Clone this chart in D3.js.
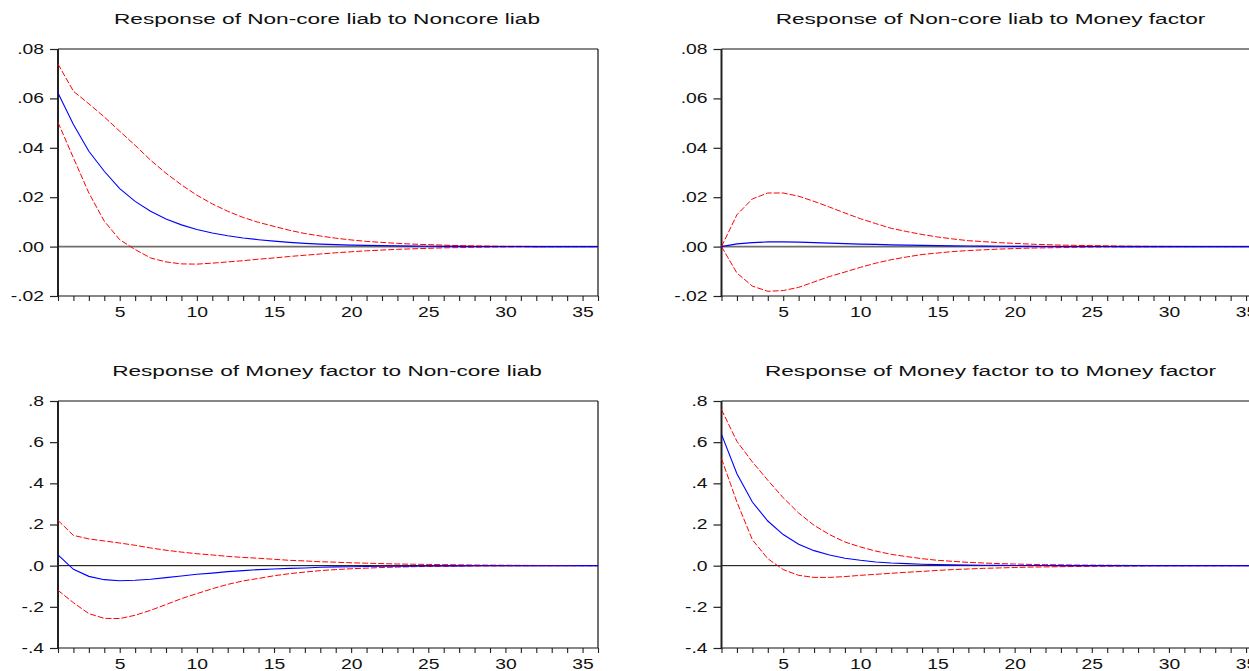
<!DOCTYPE html>
<html>
<head>
<meta charset="utf-8">
<script src="https://cdn.jsdelivr.net/npm/d3@7"></script>
<style>
  html, body { margin: 0; padding: 0; background: #fff; }
  svg { display: block; font-family: "Liberation Sans", Arial, sans-serif; }
</style>
</head>
<body>
<svg id="chart" width="1249" height="671"></svg>
<script>
// ---------- data ----------
const periods = [1,2,3,4,5,6,7,8,9,10,11,12,13,14,15,16,17,18,19,20,21,22,23,24,25,26,27,28,29,30,31,32,33,34,35,36];
const xTickLabels = [5,10,15,20,25,30,35];

const titles = [
  "Response of Non-core liab to Noncore liab",
  "Response of Non-core liab to Money factor",
  "Response of Money factor to Non-core liab",
  "Response of Money factor to to Money factor"
];

const topYTicks = [0.08, 0.06, 0.04, 0.02, 0.00, -0.02];
const topYLabels = [".08", ".06", ".04", ".02", ".00", "-.02"];
const botYTicks = [0.8, 0.6, 0.4, 0.2, 0.0, -0.2, -0.4];
const botYLabels = [".8", ".6", ".4", ".2", ".0", "-.2", "-.4"];

// Panel 1: Non-core liab -> Noncore liab
const p1Mid = [0.0622,0.0494,0.0386,0.0305,0.0235,0.0183,0.0143,0.0112,0.0088,0.0069,0.0055,0.0044,0.0035,0.0028,0.0022,0.0017,0.0013,0.0010,0.0008,0.0006,0.0005,0.0004,0.0003,0.0002,0.00015,0.0001,0.00008,0.00006,0.00004,0.00003,0.00002,0.00001,0.00001,0,0,0];
const p1Up  = [0.0739,0.0629,0.0578,0.0525,0.0467,0.0410,0.0350,0.0297,0.0250,0.0208,0.0173,0.0143,0.0118,0.0098,0.0082,0.0066,0.0053,0.0043,0.0034,0.0027,0.0021,0.0017,0.0013,0.0010,0.0008,0.0006,0.0004,0.0003,0.0002,0.0001,0.0001,0.00005,0.00003,0.00002,0.00001,0];
const p1Lo  = [0.0503,0.0359,0.0217,0.0103,0.0028,-0.0012,-0.0046,-0.0062,-0.0070,-0.0071,-0.0067,-0.0062,-0.0057,-0.0051,-0.0046,-0.0040,-0.0035,-0.0030,-0.0025,-0.0021,-0.0017,-0.0014,-0.0011,-0.0009,-0.0007,-0.0005,-0.0004,-0.0003,-0.0002,-0.00015,-0.0001,-0.00007,-0.00005,-0.00003,-0.00002,-0.00001];

// Panel 2: Non-core liab -> Money factor
const p2Mid = [0,0.0011,0.0016,0.0019,0.0019,0.0018,0.0016,0.0014,0.0012,0.0010,0.0009,0.0007,0.0006,0.0005,0.0004,0.0003,0.00025,0.0002,0.00015,0.0001,0.00008,0.00006,0.00005,0.00004,0.00003,0.00002,0.00001,0.00001,0,0,0,0,0,0,0,0];
const p2Up  = [0,0.0129,0.0193,0.0217,0.0217,0.0204,0.0183,0.0160,0.0136,0.0113,0.0093,0.0074,0.0061,0.0049,0.0039,0.0031,0.0024,0.0020,0.0016,0.0013,0.0010,0.0008,0.0006,0.0005,0.0004,0.0003,0.0002,0.00015,0.0001,0.00008,0.00006,0.00004,0.00003,0.00002,0.00001,0];
const p2Lo  = [0,-0.0107,-0.0160,-0.0181,-0.0178,-0.0165,-0.0143,-0.0121,-0.0103,-0.0084,-0.0067,-0.0053,-0.0042,-0.0032,-0.0026,-0.0020,-0.0016,-0.0013,-0.0010,-0.0008,-0.0006,-0.0005,-0.0004,-0.0003,-0.0002,-0.00015,-0.0001,-0.00008,-0.00006,-0.00004,-0.00003,-0.00002,-0.00001,0,0,0];

// Panel 3: Money factor -> Non-core liab
const p3Mid = [0.052,-0.018,-0.052,-0.068,-0.073,-0.071,-0.066,-0.058,-0.050,-0.042,-0.036,-0.029,-0.024,-0.019,-0.016,-0.013,-0.011,-0.008,-0.006,-0.005,-0.004,-0.003,-0.0025,-0.002,-0.0015,-0.001,-0.0008,-0.0006,-0.0004,-0.0003,-0.0002,-0.0002,-0.0001,-0.0001,0,0];
const p3Up  = [0.220,0.147,0.130,0.120,0.110,0.099,0.086,0.075,0.066,0.058,0.052,0.045,0.040,0.036,0.031,0.026,0.023,0.019,0.017,0.014,0.012,0.010,0.008,0.007,0.006,0.005,0.004,0.003,0.0025,0.002,0.0015,0.001,0.0008,0.0006,0.0004,0.0003];
const p3Lo  = [-0.120,-0.180,-0.233,-0.256,-0.257,-0.241,-0.217,-0.189,-0.160,-0.136,-0.112,-0.091,-0.074,-0.062,-0.049,-0.039,-0.031,-0.024,-0.019,-0.015,-0.012,-0.009,-0.007,-0.005,-0.004,-0.003,-0.002,-0.0015,-0.001,-0.0008,-0.0006,-0.0004,-0.0003,-0.0002,-0.0001,-0.0001];

// Panel 4: Money factor -> Money factor
const p4Mid = [0.638,0.447,0.309,0.217,0.151,0.104,0.073,0.052,0.036,0.026,0.018,0.013,0.010,0.007,0.005,0.004,0.003,0.002,0.0015,0.001,0.0008,0.0006,0.0004,0.0003,0.0002,0.0002,0.0001,0.0001,0,0,0,0,0,0,0,0];
const p4Up  = [0.758,0.604,0.504,0.415,0.330,0.256,0.196,0.151,0.115,0.091,0.071,0.055,0.044,0.034,0.026,0.021,0.016,0.013,0.010,0.008,0.006,0.005,0.004,0.003,0.0025,0.002,0.0015,0.001,0.0008,0.0006,0.0004,0.0003,0.0002,0.0002,0.0001,0.0001];
const p4Lo  = [0.520,0.309,0.126,0.034,-0.019,-0.047,-0.057,-0.057,-0.053,-0.047,-0.042,-0.037,-0.032,-0.028,-0.023,-0.019,-0.016,-0.013,-0.011,-0.009,-0.007,-0.006,-0.005,-0.004,-0.003,-0.0025,-0.002,-0.0015,-0.001,-0.0008,-0.0006,-0.0004,-0.0003,-0.0002,-0.0001,-0.0001];

// ---------- layout ----------
const svg = d3.select("#chart");
const TEXT_SX = 1.38;   // horizontal stretch of the reference's text
const TITLE_SX = 1.46;

const panels = [
  { title: titles[0], mid: p1Mid, up: p1Up, lo: p1Lo, x0: 58,    x1: 598,   y0: 49,  y1: 296, dom: [-0.02, 0.08], ticks: topYTicks, labels: topYLabels, zeroColor: "#6e6e6e", zeroW: 1.6 },
  { title: titles[1], mid: p2Mid, up: p2Up, lo: p2Lo, x0: 721.5, x1: 1261.5, y0: 49,  y1: 296, dom: [-0.02, 0.08], ticks: topYTicks, labels: topYLabels, zeroColor: "#6e6e6e", zeroW: 1.6 },
  { title: titles[2], mid: p3Mid, up: p3Up, lo: p3Lo, x0: 58,    x1: 598,   y0: 401, y1: 648, dom: [-0.4, 0.8],   ticks: botYTicks, labels: botYLabels, zeroColor: "#000", zeroW: 1 },
  { title: titles[3], mid: p4Mid, up: p4Up, lo: p4Lo, x0: 721.5, x1: 1261.5, y0: 401, y1: 648, dom: [-0.4, 0.8],   ticks: botYTicks, labels: botYLabels, zeroColor: "#000", zeroW: 1 }
];

panels.forEach(p => {
  const x = d3.scaleLinear().domain([1, 36]).range([p.x0, p.x1]);
  const y = d3.scaleLinear().domain(p.dom).range([p.y1, p.y0]);
  const g = svg.append("g");

  // title
  const cx = (p.x0 + p.x1) / 2;
  g.append("g")
    .attr("transform", `translate(${cx - 1},${p.y0 - 25}) scale(${TITLE_SX},1)`)
    .append("text")
    .attr("text-anchor", "middle")
    .attr("font-size", 15.5)
    .attr("fill", "#111")
    .text(p.title);

  // frame: top and right
  g.append("line").attr("x1", p.x0).attr("x2", p.x1).attr("y1", p.y0).attr("y2", p.y0)
    .attr("stroke", "#111").attr("stroke-width", 1.2);
  g.append("line").attr("x1", p.x1).attr("x2", p.x1).attr("y1", p.y0).attr("y2", p.y1)
    .attr("stroke", "#111").attr("stroke-width", 1.2);

  // zero line
  g.append("line").attr("x1", x(1)).attr("x2", x(36)).attr("y1", y(0)).attr("y2", y(0))
    .attr("stroke", p.zeroColor).attr("stroke-width", p.zeroW);

  // y axis
  const ya = d3.axisLeft(y).tickValues(p.ticks)
    .tickFormat((d, i) => p.labels[i]).tickSize(8).tickPadding(6);
  const yg = g.append("g").attr("transform", `translate(${p.x0},0)`).call(ya);
  yg.select(".domain").remove();
  yg.selectAll(".tick line").attr("stroke", "#222").attr("stroke-width", 1.2);
  yg.selectAll(".tick text")
    .attr("font-size", 14).attr("fill", "#111")
    .attr("transform", function() { const tx = +d3.select(this).attr("x"); return `translate(${tx},0) scale(${TEXT_SX},1)`; })
    .attr("x", 0);

  // x axis: minor ticks at every period, labels every 5
  const xa = d3.axisBottom(x).tickValues(periods)
    .tickFormat(d => xTickLabels.includes(d) ? d : "").tickSize(5).tickPadding(6);
  const xg = g.append("g").attr("transform", `translate(0,${p.y1})`).call(xa);
  xg.select(".domain").remove();
  xg.selectAll(".tick line").attr("stroke", "#222").attr("stroke-width", 1.1);
  xg.selectAll(".tick text")
    .attr("font-size", 14).attr("fill", "#111")
    .attr("transform", `scale(${TEXT_SX},1)`);
  g.append("line").attr("x1", p.x0).attr("x2", p.x1).attr("y1", p.y1).attr("y2", p.y1)
    .attr("stroke", "#111").attr("stroke-width", 1.2);

  // left axis line (thicker)
  g.append("line").attr("x1", p.x0).attr("x2", p.x0).attr("y1", p.y0).attr("y2", p.y1 + 1)
    .attr("stroke", "#222").attr("stroke-width", 2);

  // series
  const line = d3.line().x((d, i) => x(periods[i])).y(d => y(d));
  g.append("path").datum(p.up).attr("d", line)
    .attr("fill", "none").attr("stroke", "#ff0000").attr("stroke-width", 1)
    .attr("stroke-dasharray", "6,2");
  g.append("path").datum(p.lo).attr("d", line)
    .attr("fill", "none").attr("stroke", "#ff0000").attr("stroke-width", 1)
    .attr("stroke-dasharray", "6,2");
  g.append("path").datum(p.mid).attr("d", line)
    .attr("fill", "none").attr("stroke", "#0000ff").attr("stroke-width", 1.1);
});
</script>
</body>
</html>
